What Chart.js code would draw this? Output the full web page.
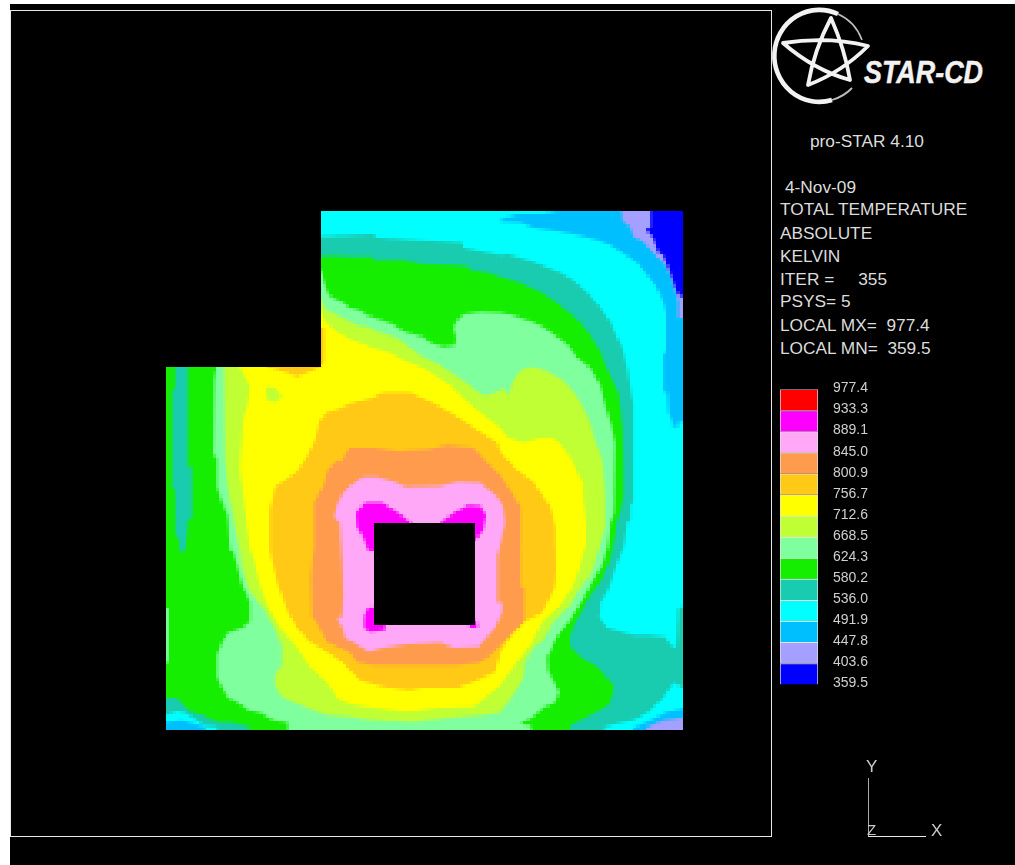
<!DOCTYPE html>
<html>
<head>
<meta charset="utf-8">
<title>pro-STAR total temperature</title>
<script src="https://cdn.jsdelivr.net/npm/chart.js@4"></script>
<style>
    html, body { margin: 0; padding: 0; background: #fff; }
    #pagina { position: relative; width: 1015px; height: 865px; overflow: hidden; }
    #fundo { position: absolute; left: 10px; top: 4px; right: 0; bottom: 0; background: #000; }
    #moldura { position: absolute; left: 10px; top: 10px; width: 760px; height: 825px; border: 1px solid #e8e8e8; }
    #grafico, #mascara { position: absolute; left: 166px; top: 211px; width: 517px; height: 520px; clip-path: inset(0 0 1px 0); }
    #grafico { image-rendering: pixelated; }
    #escala { position: absolute; left: 780px; top: 366px; }
    #logo, #triade { position: absolute; left: 0; top: 0; }
    .txt { position: absolute; left: 780px; color: #dcdcdc; font: 17.3px "Liberation Sans", sans-serif; line-height: 20px; white-space: pre; }
</style>
</head>
<body>
<div id="pagina">
    <div id="fundo"></div>
    <div id="moldura"></div>
    <canvas id="grafico" width="517" height="520"></canvas>
    <canvas id="mascara" width="517" height="520"></canvas>
    <div id="escala"><canvas id="legenda" width="100" height="342"></canvas></div>

    <svg id="logo" width="1015" height="130">
        <path d="M 862 40 A 45 46 0 0 0 838 14" fill="none" stroke="#bdbdbd" stroke-width="1.6"/>
        <path d="M 838 14 A 45 46 0 1 0 832 100" fill="none" stroke="#f2f2f2" stroke-width="4.6"/>
        <path d="M 832 100 A 45 46 0 0 0 852 88" fill="none" stroke="#bdbdbd" stroke-width="1.8"/>
        <path d="M 831 18 Q 814 50 808 85 Q 842 72 868 46 Q 828 36 783 43 Q 814 70 850 80 Q 845 50 831 18 Z" fill="none" stroke="#f2f2f2" stroke-width="3.8" stroke-linejoin="round"/>
        <text x="864" y="83" font-family="Liberation Sans" font-weight="bold" font-style="italic" font-size="31" fill="#f2f2f2" stroke="#f2f2f2" stroke-width="0.5" textLength="119" lengthAdjust="spacingAndGlyphs">STAR-CD</text>
    </svg>

    <div class="txt" style="left:810px;top:131px">pro-STAR 4.10</div>
    <div class="txt" style="left:785px;top:177px">4-Nov-09</div>
    <div class="txt" style="top:199px">TOTAL TEMPERATURE</div>
    <div class="txt" style="top:223px">ABSOLUTE</div>
    <div class="txt" style="top:246px">KELVIN</div>
    <div class="txt" style="top:269px">ITER =     355</div>
    <div class="txt" style="top:291px">PSYS= 5</div>
    <div class="txt" style="top:315px">LOCAL MX=  977.4</div>
    <div class="txt" style="top:338px">LOCAL MN=  359.5</div>

    <svg id="triade" width="1015" height="865">
        <line x1="868.5" y1="778" x2="868.5" y2="836" stroke="#aaa"/>
        <line x1="868" y1="836.5" x2="926" y2="836.5" stroke="#e8e8e8"/>
        <g font-family="Liberation Sans" font-size="17" fill="#ccc">
            <text x="866" y="772">Y</text>
            <text x="931" y="836">X</text>
            <text x="867" y="835" font-size="15">Z</text>
        </g>
    </svg>
</div>

<script>
// Níveis e cores da escala, de cima para baixo
const niveis = ['977.4', '933.3', '889.1', '845.0', '800.9', '756.7', '712.6', '668.5', '624.3', '580.2', '536.0', '491.9', '447.8', '403.6', '359.5'];
const coresEscala = ['#ff0000', '#ff00ff', '#ffa8f8', '#ff9b4d', '#ffc916', '#ffff00', '#bfff33', '#80ff9f', '#16ee00', '#19ccb0', '#00ffff', '#00bfff', '#a5a0ff', '#0000ff'];

const ciano = '#00ffff', azulCeu = '#00bfff', lilas = '#a5a0ff', azul = '#0000ff', teal = '#19ccb0', verde = '#16ee00',
      verdeClaro = '#80ff9f', amareloVerde = '#bfff33', amarelo = '#ffff00', ambar = '#ffc916', laranja = '#ff9b4d', rosa = '#ffa8f8', magenta = '#ff00ff';

// Contornos. As faixas passam um pouco por baixo do nicho e do furo, que vão na máscara
const dominio = [[166,211],[683,211],[683,731],[166,731]];
const ceuTopo = [[500,219],[518,214],[543,214],[559,211],[683,211],[683,422],[678,422],[678,427],[672,427],[672,422],[668,413],[667,393],[663,392],[663,355],[666,352],[666,313],[663,302],[655,285],[647,275],[637,263],[622,253],[610,245],[597,240],[585,237],[557,231],[533,228],[520,223],[500,222]];
const lilasTopo = [[621,211],[622,220],[630,228],[633,237],[643,242],[655,255],[665,265],[670,277],[675,292],[678,302],[678,318],[683,318],[683,211]];
const azulTopo = [[650,211],[650,228],[646,228],[648,233],[653,238],[658,253],[663,255],[668,268],[673,282],[678,295],[683,297],[683,211]];
const ceuBaixoEsq = [[166,722],[182,720],[205,727],[205,731],[166,731]];
const ceuBaixoDir = [[683,708],[667,712],[655,718],[647,722],[633,728],[633,731],[683,731]];
const lilasBaixoDir = [[683,718],[663,720],[647,727],[646,731],[683,731]];
const tealPrincipal = [[316,237],[373,234],[377,238],[417,240],[462,243],[463,248],[500,255],[508,254],[533,262],[560,273],[573,280],[587,293],[600,308],[610,322],[617,338],[622,348],[627,368],[631,395],[633,403],[633,503],[630,505],[630,520],[627,522],[624,545],[618,560],[607,592],[600,603],[599,618],[607,628],[633,635],[648,635],[665,637],[670,645],[676,648],[677,632],[678,608],[683,607],[683,688],[673,683],[663,698],[647,713],[633,720],[620,723],[605,727],[604,731],[217,731],[217,727],[205,726],[197,720],[185,713],[177,711],[166,715],[166,362],[316,362]];
const verdePrincipal = [[316,257],[330,256],[353,257],[372,257],[373,260],[403,260],[423,264],[450,265],[467,266],[470,270],[487,273],[500,277],[517,282],[540,292],[555,302],[568,312],[580,323],[590,335],[600,352],[608,372],[618,393],[622,428],[623,460],[623,497],[620,510],[617,520],[615,537],[613,545],[609,562],[600,582],[590,595],[582,610],[575,623],[569,638],[570,647],[580,657],[597,667],[613,685],[613,692],[608,705],[590,715],[570,725],[569,731],[250,731],[250,727],[232,723],[217,722],[203,715],[193,713],[185,707],[177,698],[166,698],[166,362],[316,362]];
const tealFaixa = [[175,362],[188,362],[188,467],[192,467],[192,518],[188,520],[187,537],[185,552],[180,552],[179,538],[175,535],[175,490],[172,488],[172,390],[175,388]];
const claroBorda = [[166,608],[169,608],[169,663],[166,663]];
const claroPrincipal = [[316,270],[321,270],[324,282],[328,293],[332,298],[342,302],[350,308],[360,310],[367,315],[382,320],[393,324],[405,332],[423,337],[430,343],[443,347],[455,345],[456,338],[453,328],[457,320],[463,314],[480,312],[500,313],[513,315],[532,322],[543,327],[557,337],[568,345],[577,358],[590,368],[600,385],[605,405],[611,425],[615,443],[614,513],[610,523],[608,545],[602,565],[593,580],[585,595],[575,612],[568,623],[560,632],[555,640],[550,652],[547,657],[548,672],[553,680],[559,692],[555,703],[543,708],[535,715],[532,718],[523,722],[520,724],[530,725],[531,731],[288,731],[288,723],[273,720],[260,713],[248,710],[238,703],[228,698],[222,688],[217,677],[217,655],[223,640],[228,633],[242,628],[250,622],[250,602],[242,585],[237,565],[233,552],[230,550],[228,517],[222,503],[217,487],[217,458],[213,455],[214,380],[217,362],[316,362]];
const avPrincipal = [[316,299],[321,299],[324,307],[330,312],[343,318],[357,325],[368,327],[380,333],[397,338],[407,345],[420,355],[440,365],[450,372],[465,382],[482,395],[487,395],[497,392],[503,388],[508,395],[512,383],[520,370],[532,367],[545,370],[553,375],[563,380],[577,397],[588,418],[595,440],[602,460],[605,493],[605,527],[600,543],[595,562],[590,575],[580,588],[570,605],[553,622],[543,640],[533,648],[525,662],[523,678],[515,692],[500,713],[483,715],[450,718],[413,722],[373,720],[350,717],[327,715],[307,708],[293,702],[282,697],[275,685],[275,675],[282,665],[282,645],[273,625],[263,608],[250,592],[242,568],[240,550],[233,517],[228,487],[225,458],[224,377],[224,362],[316,362]];
const amareloPrincipal = [[316,312],[321,312],[324,320],[337,332],[353,340],[373,348],[390,353],[407,362],[423,368],[450,385],[460,395],[473,407],[487,418],[500,428],[507,437],[523,443],[540,438],[553,438],[563,448],[572,460],[578,475],[583,483],[583,495],[586,523],[586,545],[583,553],[578,572],[572,588],[560,605],[542,622],[530,645],[517,662],[500,685],[480,702],[473,707],[440,708],[407,712],[373,708],[350,704],[337,698],[327,683],[310,667],[297,648],[280,628],[268,607],[260,585],[253,558],[250,550],[248,533],[242,487],[240,467],[243,420],[248,403],[250,387],[237,362],[316,362]];
const avIlha = [[266,387],[275,388],[282,397],[275,403],[267,400]];
const ambarCanto = [[267,362],[267,367],[287,373],[297,377],[307,373],[320,367],[324,362],[324,328],[316,328],[316,362]];
const ambarPrincipal = [[340,408],[353,403],[373,398],[383,393],[410,393],[427,400],[440,407],[457,417],[477,430],[497,443],[500,452],[517,470],[533,482],[543,497],[550,507],[555,527],[556,570],[555,585],[553,590],[542,613],[523,622],[510,637],[500,652],[495,672],[473,682],[457,688],[423,688],[410,690],[383,687],[360,680],[342,662],[327,652],[310,642],[297,628],[288,612],[278,585],[273,565],[270,550],[270,510],[275,487],[285,480],[297,472],[307,457],[315,440],[320,420],[327,413],[350,405]];
const laranjaPrincipal = [[340,463],[350,448],[373,448],[397,451],[427,449],[447,445],[473,448],[487,463],[500,475],[513,495],[520,507],[520,587],[524,588],[524,622],[513,632],[503,642],[495,650],[487,658],[478,663],[457,665],[420,665],[373,665],[357,662],[350,653],[327,642],[317,623],[312,617],[311,578],[314,545],[314,503],[323,487],[328,470],[337,460]];
const rosaPrincipal = [[350,486],[363,477],[377,477],[395,482],[405,487],[440,486],[457,482],[480,483],[497,497],[503,507],[505,523],[497,557],[497,603],[502,603],[502,612],[495,628],[478,647],[453,648],[440,643],[407,644],[383,648],[369,652],[358,645],[345,638],[342,628],[337,618],[342,617],[343,595],[342,560],[340,523],[334,518],[337,505],[343,493]];
const magentaEsq = [[356,513],[365,503],[382,503],[397,512],[411,523],[411,530],[380,530],[380,552],[368,550],[363,537],[357,527]];
const magentaDir = [[440,523],[455,512],[468,505],[480,506],[486,515],[483,530],[475,540],[470,540],[470,530],[440,530]];
const magentaBaixoEsq = [[380,607],[368,608],[364,617],[364,628],[370,632],[385,630],[385,620],[380,620]];
const magentaBaixoDir = [[475,620],[478,625],[475,628],[469,628],[469,620]];
const nicho = [[166,211],[321,211],[321,367],[166,367]];
const furo = [[374,523],[475,523],[475,625],[374,625]];

// Ordem de pintura: do fundo para a frente
const regioes = [
    [dominio, ciano], [ceuTopo, azulCeu], [lilasTopo, lilas], [azulTopo, azul],
    [ceuBaixoEsq, azulCeu], [ceuBaixoDir, azulCeu], [lilasBaixoDir, lilas],
    [tealPrincipal, teal], [verdePrincipal, verde], [tealFaixa, teal], [claroBorda, verdeClaro],
    [claroPrincipal, verdeClaro], [avPrincipal, amareloVerde], [amareloPrincipal, amarelo],
    [avIlha, amareloVerde], [ambarCanto, ambar], [ambarPrincipal, ambar], [laranjaPrincipal, laranja],
    [rosaPrincipal, rosa], [magentaEsq, magenta], [magentaDir, magenta], [magentaBaixoEsq, magenta],
    [magentaBaixoDir, magenta]
];
const recortes = [[nicho, '#000000'], [furo, '#000000']];

// A malha do original tem células de ~3,3 px: o campo é desenhado nessa resolução e ampliado
function desenharCampo(id, lista, escala) {
    return new Chart(document.getElementById(id).getContext('2d'), {
        type: 'scatter',
        data: {
            datasets: lista.map((regiao, i) => ({
                data: regiao[0].concat([regiao[0][0]]).map(p => ({ x: p[0], y: p[1] })),
                showLine: true,
                fill: 'shape',
                backgroundColor: regiao[1],
                borderWidth: 0,
                pointRadius: 0,
                order: lista.length - i
            }))
        },
        options: {
            responsive: false,
            animation: false,
            devicePixelRatio: escala,
            layout: { padding: 0 },
            scales: {
                x: { type: 'linear', min: 166, max: 683, display: false },
                y: { type: 'linear', min: 211, max: 731, reverse: true, display: false }
            },
            plugins: { legend: { display: false }, tooltip: { enabled: false } }
        }
    });
}

const grafico = desenharCampo('grafico', regioes, 0.3);
const mascara = desenharCampo('mascara', recortes, 1);

// Barra de cores da escala
const legenda = new Chart(document.getElementById('legenda').getContext('2d'), {
    type: 'bar',
    data: {
        labels: ['escala'],
        datasets: coresEscala.slice().reverse().map(cor => ({
            data: [1],
            backgroundColor: cor,
            borderColor: '#e4e4e4',
            borderWidth: 1,
            barPercentage: 1,
            categoryPercentage: 1,
            stack: 'a'
        }))
    },
    options: {
        responsive: false,
        animation: false,
        layout: { padding: 0 },
        scales: {
            x: { display: false, stacked: true },
            y: {
                position: 'right',
                stacked: true,
                min: 0,
                max: 14,
                afterFit: eixo => { eixo.width = 62; },
                border: { display: false },
                grid: { display: false, drawTicks: false },
                ticks: {
                    stepSize: 1,
                    padding: 15,
                    labelOffset: -1,
                    color: '#cfcfcf',
                    font: { family: 'Liberation Sans', size: 14 },
                    callback: v => niveis[14 - v]
                }
            }
        },
        plugins: { legend: { display: false }, tooltip: { enabled: false } }
    }
});
</script>
</body>
</html>
